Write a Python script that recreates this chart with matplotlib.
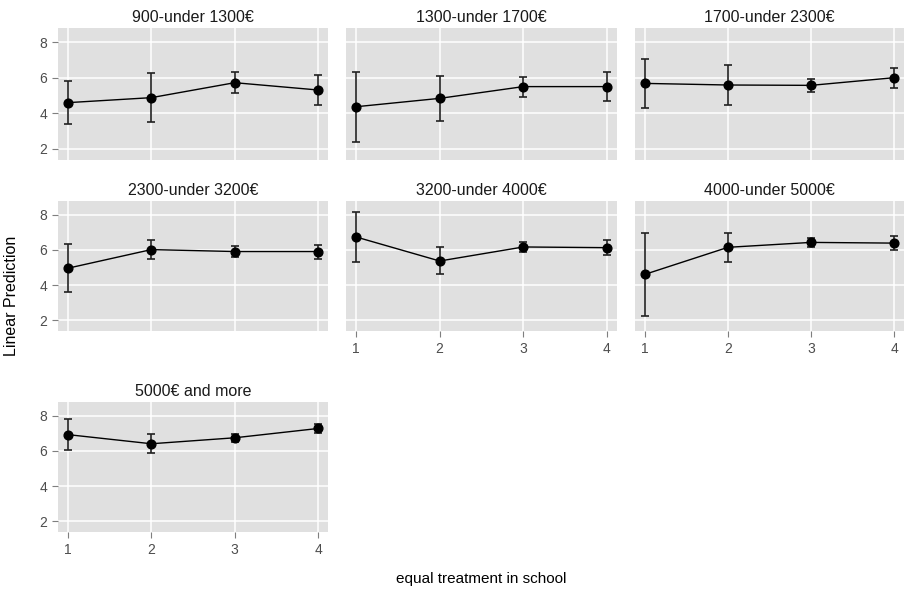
import matplotlib
matplotlib.use("Agg")
import matplotlib.pyplot as plt

plt.rcParams['font.family'] = ['Liberation Sans', 'DejaVu Sans']

panels = ["900-under 1300€", "1300-under 1700€", "1700-under 2300€",
          "2300-under 3200€", "3200-under 4000€", "4000-under 5000€",
          "5000€ and more"]
x_levels = [1, 2, 3, 4]
means = [
    [4.60, 4.88, 5.72, 5.31],
    [4.37, 4.84, 5.50, 5.50],
    [5.68, 5.59, 5.57, 6.00],
    [4.96, 6.02, 5.91, 5.91],
    [6.74, 5.37, 6.17, 6.13],
    [4.61, 6.15, 6.43, 6.39],
    [6.93, 6.41, 6.75, 7.28],
]
upper = [
    [5.79, 6.28, 6.32, 6.17],
    [6.34, 6.11, 6.06, 6.34],
    [7.07, 6.73, 5.93, 6.54],
    [6.33, 6.59, 6.22, 6.31],
    [8.19, 6.15, 6.46, 6.56],
    [6.98, 6.98, 6.70, 6.81],
    [7.80, 6.97, 6.97, 7.56],
]
lower = [
    [3.42, 3.50, 5.14, 4.47],
    [2.37, 3.59, 4.92, 4.67],
    [4.28, 4.47, 5.21, 5.42],
    [3.61, 5.46, 5.61, 5.48],
    [5.30, 4.63, 5.87, 5.72],
    [2.22, 5.31, 6.15, 5.98],
    [6.06, 5.86, 6.51, 7.02],
]
y_ticks = [2, 4, 6, 8]

W, H = 905, 591
fig = plt.figure(figsize=(W / 100, H / 100), dpi=100)

cols = [(58, 328), (346, 617), (635, 904)]
rows = [(28, 160), (201, 331), (402, 532)]

grey_text = '#4d4d4d'
for i, name in enumerate(panels):
    r, c = divmod(i, 3)
    x0, x1 = cols[c]
    y0, y1 = rows[r]
    ax = fig.add_axes([x0 / W, 1 - y1 / H, (x1 - x0) / W, (y1 - y0) / H])
    ax.set_facecolor('#e0e0e0')
    for s in ax.spines.values():
        s.set_visible(False)
    ax.set_xlim(0.88, 4.12)
    ax.set_ylim(1.38, 8.79)
    ax.set_xticks(x_levels)
    ax.set_yticks(y_ticks)
    ax.grid(True, color='white', linewidth=1.1)
    ax.set_axisbelow(True)
    m = means[i]
    lo = [m[k] - lower[i][k] for k in range(4)]
    hi = [upper[i][k] - m[k] for k in range(4)]
    ax.errorbar(x_levels, m, yerr=[lo, hi], fmt='none', ecolor='#222222',
                elinewidth=1.2, capsize=2.8, capthick=1.2, zorder=3)
    ax.plot(x_levels, m, color='black', linewidth=1.0, zorder=4)
    ax.plot(x_levels, m, 'o', color='black', markersize=6.3, zorder=5)
    ax.tick_params(axis='both', colors='#7f7f7f', length=4, width=0.8,
                   labelcolor=grey_text, labelsize=10, pad=4)
    ax.set_title(name, fontsize=11.5, color='#1a1a1a', pad=4)
    if c != 0:
        ax.tick_params(axis='y', left=False, labelleft=False)
    if not (r == 2 or (r == 1 and c > 0)):
        ax.tick_params(axis='x', bottom=False, labelbottom=False)

fig.text(12 / W, 1 - 296 / H, 'Linear Prediction', rotation=90,
         ha='center', va='center', fontsize=11.5, color='black')
fig.text(481 / W, 1 - 579 / H, 'equal treatment in school',
         ha='center', va='center', fontsize=11, color='black')

fig.savefig('out.png', dpi=100, facecolor='white')
